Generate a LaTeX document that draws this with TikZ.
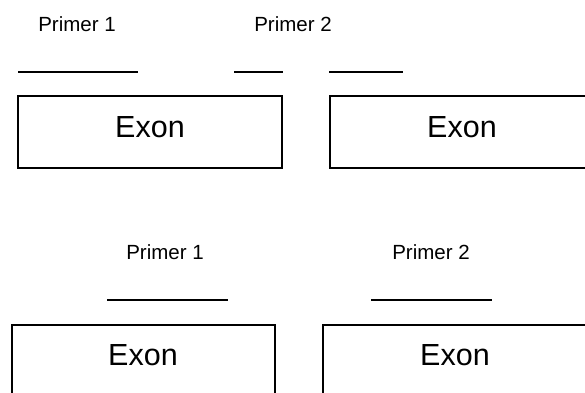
\documentclass[tikz,border=0pt]{standalone}
\usepackage{fontspec}
\setmainfont{Liberation Sans}
\begin{document}
\begin{tikzpicture}[x=1pt,y=-1pt,
  exonbox/.style={draw=black,line width=1.5pt,fill=white},
  exonlabel/.style={anchor=base,font=\fontsize{30.5}{32}\selectfont,inner sep=0pt},
  primerlabel/.style={anchor=base,font=\fontsize{20.5}{22}\selectfont,inner sep=0pt},
  primerline/.style={draw=black,line width=1.5pt}]
\useasboundingbox (0,0) rectangle (585,392);
\clip (0,0) rectangle (585,392);
% top row
\node[primerlabel] (p1a) at (77,31) {Primer 1};
\node[primerlabel] (p2a) at (293,31) {Primer 2};
\draw[primerline] (18,72) -- (138,72);
\draw[primerline] (234,72) -- (283,72);
\draw[primerline] (329,72) -- (403,72);
\draw[exonbox] (18,96) rectangle (282,168);
\draw[exonbox] (330,96) rectangle (600,168);
\node[exonlabel] (ea) at (150,137) {Exon};
\node[exonlabel] (eb) at (462,137) {Exon};
% bottom row
\node[primerlabel] (p1b) at (165,259) {Primer 1};
\node[primerlabel] (p2b) at (431,259) {Primer 2};
\draw[primerline] (107,300) -- (228,300);
\draw[primerline] (371,300) -- (492,300);
\draw[exonbox] (12,325) rectangle (275,410);
\draw[exonbox] (323,325) rectangle (600,410);
\node[exonlabel] (ec) at (143,365) {Exon};
\node[exonlabel] (ed) at (455,365) {Exon};
\end{tikzpicture}
\end{document}
